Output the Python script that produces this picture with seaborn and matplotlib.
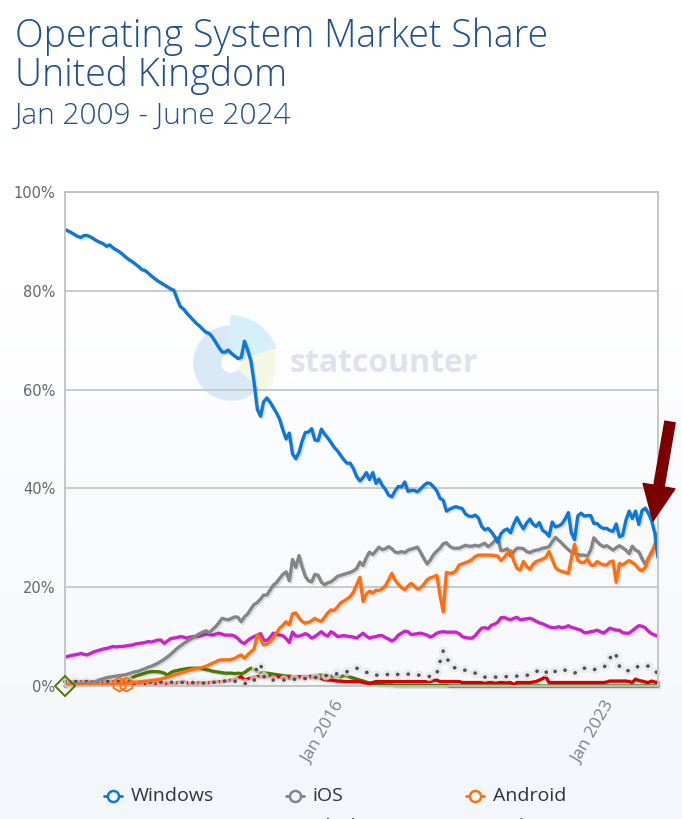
import numpy as np
import pandas as pd
import matplotlib
matplotlib.use('Agg')
import matplotlib.pyplot as plt
import matplotlib.patheffects as pe
from matplotlib.patches import Wedge, Circle, FancyArrowPatch
from matplotlib.lines import Line2D
from matplotlib.transforms import IdentityTransform
import seaborn as sns

# Données (part de marché mensuelle, %)
months = pd.date_range('2009-01-01', '2024-06-01', freq='MS')

windows = [92.4, 92.1, 91.8, 91.4, 91.0, 90.8, 91.2, 91.2, 90.9, 90.5,
           90.1, 89.8, 89.5, 89.0, 89.3, 88.7, 88.3, 87.9, 87.4, 86.8,
           86.3, 85.9, 85.4, 84.9, 84.3, 84.1, 83.6, 83.0, 82.5, 82.0,
           81.6, 81.2, 80.8, 80.4, 80.1, 78.4, 76.8, 76.3, 75.5, 74.8,
           74.1, 73.4, 72.9, 72.2, 71.6, 71.4, 70.6, 69.6, 68.5, 67.6,
           67.6, 68.0, 67.3, 66.8, 66.3, 66.5, 69.8, 68.0, 65.8, 61.5,
           56.0, 54.6, 57.5, 58.3, 57.5, 56.4, 55.3, 54.0, 51.8, 50.0,
           51.2, 47.0, 46.0, 47.3, 49.5, 51.3, 51.4, 52.1, 49.8, 49.7,
           52.0, 51.0, 50.2, 49.3, 48.3, 47.6, 46.7, 45.8, 45.1, 45.1,
           44.0, 42.4, 41.5, 42.2, 43.2, 41.8, 43.2, 41.0, 41.9, 40.6,
           39.8, 38.6, 38.3, 39.5, 40.4, 40.3, 41.3, 39.4, 39.6, 39.6,
           39.3, 39.9, 40.6, 41.1, 41.0, 40.3, 39.5, 38.0, 37.6, 35.4,
           35.8, 36.1, 36.3, 36.1, 35.9, 34.8, 34.4, 34.3, 34.6, 34.0,
           32.3, 31.6, 31.9, 31.2, 30.3, 29.1, 30.8, 31.5, 31.8, 31.0,
           32.8, 34.1, 32.8, 31.8, 33.0, 33.8, 32.8, 32.3, 33.1, 31.5,
           31.1, 30.3, 33.2, 32.2, 32.4, 32.8, 33.8, 35.1, 31.0, 29.6,
           34.4, 35.0, 34.4, 34.5, 34.5, 32.9, 32.9, 32.2, 31.9, 31.9,
           31.5, 31.3, 32.8, 30.2, 30.5, 33.5, 35.4, 33.9, 35.4, 32.7,
           35.5, 36.0, 35.0, 33.5, 31.0, 26.0]

ios = [0.2, 0.2, 0.3, 0.3, 0.4, 0.5, 0.5, 0.6, 0.7, 0.8,
       1.0, 1.3, 1.5, 1.7, 1.8, 1.9, 2.0, 2.1, 2.2, 2.3,
       2.5, 2.7, 2.9, 3.0, 3.3, 3.5, 3.8, 4.0, 4.3, 4.6,
       5.0, 5.4, 5.9, 6.4, 7.0, 7.6, 8.1, 8.6, 9.0, 9.4,
       9.8, 10.2, 10.6, 10.9, 11.2, 10.8, 11.4, 12.0, 12.8, 13.7,
       13.5, 13.4, 13.7, 14.0, 13.9, 13.0, 14.0, 14.6, 15.6, 16.5,
       16.9, 17.6, 18.4, 18.4, 19.4, 20.4, 20.9, 21.8, 22.6, 23.1,
       21.3, 25.6, 24.0, 26.4, 24.2, 22.2, 21.3, 21.1, 22.6, 22.4,
       21.0, 20.5, 20.9, 21.1, 21.6, 22.2, 22.4, 22.6, 22.8, 23.0,
       23.3, 23.8, 25.1, 24.4, 26.0, 27.1, 26.6, 27.4, 28.1, 27.6,
       27.8, 28.2, 27.8, 27.1, 27.0, 27.2, 27.0, 27.5, 27.7, 27.9,
       28.1, 27.0, 25.8, 24.7, 25.5, 26.6, 27.3, 27.9, 28.8, 29.0,
       28.3, 27.9, 27.9, 27.9, 28.2, 28.5, 28.3, 28.3, 28.5, 28.3,
       28.6, 28.9, 28.2, 28.7, 29.3, 30.0, 27.4, 27.5, 27.8, 26.3,
       27.2, 27.9, 27.9, 27.8, 27.2, 27.0, 27.3, 27.5, 27.6, 27.9,
       28.0, 28.2, 29.2, 30.1, 29.5, 28.9, 28.2, 27.6, 27.1, 26.9,
       26.6, 26.5, 26.5, 26.3, 27.5, 30.0, 29.2, 28.6, 28.2, 28.4,
       28.0, 27.5, 28.0, 28.4, 28.0, 27.5, 26.8, 28.3, 27.5, 27.2,
       25.8, 24.6, 25.8, 27.2, 28.2, 29.0]

android = [0.1, 0.1, 0.1, 0.1, 0.1, 0.1, 0.1, 0.2, 0.2, 0.2,
           0.2, 0.2, 0.3, 0.3, 0.3, 0.3, 0.3, 0.4, 0.4, 0.5,
           0.6, 0.7, 0.8, 0.8, 0.9, 1.0, 1.0, 1.1, 1.2, 1.3,
           1.4, 1.6, 1.8, 2.0, 2.2, 2.4, 2.6, 2.8, 3.0, 3.2,
           3.4, 3.5, 3.6, 3.8, 4.0, 4.3, 4.6, 4.9, 5.2, 5.3,
           5.3, 5.3, 5.4, 5.6, 6.0, 6.3, 5.6, 6.3, 6.9, 7.5,
           10.3, 9.5, 8.3, 8.5, 9.0, 9.7, 10.7, 11.7, 12.3, 13.0,
           12.4, 14.6, 14.8, 13.8, 13.1, 12.7, 12.9, 13.2, 13.7, 13.3,
           13.1, 13.9, 14.8, 15.4, 15.3, 16.0, 16.8, 17.2, 17.6, 18.1,
           19.0, 20.5, 22.0, 17.1, 18.6, 19.2, 18.8, 19.4, 19.3, 19.7,
           20.3, 21.5, 22.8, 21.4, 20.6, 19.9, 19.5, 20.2, 20.8, 20.2,
           19.6, 19.9, 20.6, 21.5, 21.9, 22.1, 22.4, 18.4, 15.0, 23.0,
           22.8, 22.9, 23.3, 24.5, 24.7, 25.0, 25.2, 25.6, 26.2, 26.5,
           26.5, 26.5, 26.5, 26.5, 26.4, 26.3, 25.4, 26.0, 26.8, 27.4,
           25.3, 23.8, 23.5, 25.2, 24.2, 23.6, 24.6, 25.2, 25.4, 25.7,
           26.0, 27.2, 25.6, 24.0, 23.4, 23.2, 23.0, 22.8, 25.8, 28.7,
           25.5, 25.0, 25.0, 25.7, 24.5, 24.4, 25.2, 24.8, 24.5, 24.5,
           25.1, 25.3, 21.0, 24.8, 24.5, 25.0, 25.4, 25.0, 24.5, 23.7,
           23.3, 24.0, 25.9, 26.8, 28.6, 31.0]

osx = [5.9, 6.0, 6.2, 6.3, 6.4, 6.6, 6.4, 6.3, 6.6, 6.9,
       7.1, 7.3, 7.5, 7.6, 7.8, 8.0, 7.9, 8.0, 8.0, 8.1,
       8.2, 8.3, 8.5, 8.6, 8.7, 8.8, 9.0, 8.9, 9.1, 9.3,
       9.3, 8.6, 9.1, 9.6, 9.7, 9.8, 10.0, 9.9, 9.7, 9.9,
       10.0, 10.0, 10.1, 10.3, 10.5, 10.4, 10.3, 10.5, 10.7, 10.5,
       10.3, 10.3, 10.3, 10.1, 9.6, 8.9, 8.6, 9.2, 9.7, 10.0,
       10.3, 10.6, 9.3, 9.2, 9.8, 10.7, 10.5, 10.3, 10.2, 9.6,
       8.8, 10.9, 10.1, 10.1, 10.3, 10.6, 10.3, 9.7, 10.0, 10.5,
       11.0, 10.4, 10.1, 11.0, 10.6, 10.0, 10.1, 10.2, 10.1, 10.0,
       9.9, 9.7, 10.2, 10.7, 10.1, 9.7, 9.9, 10.0, 10.2, 10.2,
       9.8, 9.5, 9.1, 9.5, 10.3, 10.7, 11.1, 11.0, 10.4, 10.5,
       10.6, 10.7, 10.5, 10.3, 9.9, 10.2, 10.7, 10.9, 11.0, 10.9,
       10.9, 10.9, 10.9, 10.6, 10.0, 9.8, 9.7, 9.7, 10.2, 11.0,
       11.7, 11.8, 11.6, 12.3, 12.5, 12.9, 13.8, 13.9, 13.6, 13.4,
       13.7, 13.9, 13.4, 13.5, 13.6, 13.7, 13.5, 13.1, 12.8, 12.6,
       12.3, 12.0, 11.8, 11.8, 12.0, 11.8, 11.9, 12.2, 11.9, 11.7,
       11.5, 11.3, 10.8, 10.8, 11.0, 11.1, 11.3, 11.0, 10.7, 11.2,
       11.7, 11.5, 11.3, 11.3, 10.8, 10.7, 10.7, 11.2, 11.7, 12.2,
       12.1, 11.8, 11.1, 10.6, 10.3, 10.1]

blackberry = [0.0, 0.2, 0.3, 0.3, 0.4, 0.4, 0.5, 0.5, 0.5, 0.6,
              0.6, 0.6, 0.7, 0.7, 0.8, 0.8, 0.9, 1.0, 1.1, 1.2,
              1.4, 1.7, 2.0, 2.2, 2.4, 2.6, 2.8, 2.9, 2.9, 2.9,
              2.8, 2.6, 2.2, 2.7, 3.0, 3.1, 3.3, 3.4, 3.5, 3.6,
              3.6, 3.6, 3.6, 3.5, 3.3, 3.2, 3.0, 2.9, 2.8, 2.7,
              2.6, 2.6, 2.6, 2.5, 2.6, 2.5, 2.7, 3.2, 3.6, 3.3,
              2.9, 2.7, 2.6, 2.6, 2.5, 2.4, 2.3, 2.2, 2.1, 2.0,
              2.0, 1.9, 1.9, 1.9, 1.9, 1.9, 1.9, 2.0, 2.1, 2.2,
              2.2, 2.2, 2.1, 2.0, 1.9, 1.9, 1.9, 2.1, 2.1, 1.8,
              1.6, 1.4, 1.2, 1.0, 0.8, 0.6, 0.5, 0.4, 0.3, 0.3,
              0.2, 0.2, 0.2, 0.1, 0.1, 0.1, 0.1, 0.1, 0.1, 0.1,
              0.1, 0.1, 0.1, 0.1, 0.1, 0.1, 0.1, 0.1, 0.1, 0.1,
              0.0, 0.0, 0.0, 0.0, 0.0, 0.0, 0.0, 0.0, 0.0, 0.0,
              0.0, 0.0, 0.0, 0.0, 0.0, 0.0, 0.0, 0.0, 0.0, 0.0,
              0.0, 0.0, 0.0, 0.0, 0.0, 0.0, 0.0, 0.0, 0.0, 0.0,
              0.0, 0.0, 0.0, 0.0, 0.0, 0.0, 0.0, 0.0, 0.0, 0.0,
              0.0, 0.0, 0.0, 0.0, 0.0, 0.0, 0.0, 0.0, 0.0, 0.0,
              0.0, 0.0, 0.0, 0.0, 0.0, 0.0, 0.0, 0.0, 0.0, 0.0,
              0.0, 0.0, 0.0, 0.0, 0.0, 0.0]

linux = [0.9, 0.9, 0.9, 0.9, 0.9, 0.9, 0.9, 0.9, 0.9, 0.9,
         0.9, 0.9, 0.9, 0.9, 0.9, 0.9, 0.9, 0.9, 0.9, 0.8,
         0.7, 0.5, 0.5, 0.5, 0.5, 0.5, 0.6, 0.5, 0.5, 0.6,
         0.5, 0.5, 0.6, 0.5, 0.5, 0.7, 0.8, 0.9, 0.7, 0.5,
         0.5, 0.6, 0.7, 0.6, 0.6, 0.7, 0.8, 0.8, 0.9, 0.9,
         1.0, 1.1, 1.2, 1.4, 1.6, 1.9, 1.2, 1.4, 1.6, 1.8,
         1.9, 1.9, 1.9, 1.9, 1.9, 1.9, 1.8, 1.8, 1.7, 1.7,
         1.6, 1.6, 1.7, 1.8, 1.9, 1.9, 1.9, 1.8, 1.7, 1.6,
         1.5, 1.3, 1.2, 1.2, 1.1, 1.0, 1.0, 0.9, 0.9, 0.9,
         0.9, 0.9, 0.9, 0.7, 0.6, 0.5, 0.7, 0.9, 0.9, 0.9,
         0.9, 0.9, 0.9, 0.9, 0.9, 0.9, 0.9, 0.9, 0.9, 0.9,
         0.9, 0.9, 0.9, 0.9, 0.9, 1.1, 1.2, 0.9, 0.9, 0.9,
         0.9, 0.9, 0.9, 0.9, 0.7, 0.7, 0.7, 0.7, 0.7, 0.7,
         0.7, 0.7, 0.7, 0.7, 0.7, 0.7, 0.7, 0.7, 0.7, 0.7,
         0.3, 0.7, 0.7, 0.7, 0.7, 0.7, 0.8, 0.9, 1.2, 1.5,
         1.9, 0.7, 0.7, 0.7, 0.7, 0.7, 0.7, 0.7, 0.7, 0.7,
         0.7, 0.7, 0.7, 0.7, 0.7, 0.7, 0.7, 0.7, 0.7, 0.8,
         1.0, 1.0, 1.0, 1.0, 1.0, 1.0, 0.9, 0.7, 1.4, 1.1,
         1.0, 0.8, 0.7, 1.0, 0.8, 0.7]

unknown = [0.9, 0.9, 0.9, 0.9, 0.9, 0.9, 0.9, 0.9, 0.9, 0.9,
           0.9, 0.9, 0.9, 0.9, 0.9, 0.9, 0.9, 0.9, 0.9, 0.9,
           0.9, 0.8, 0.8, 0.8, 0.8, 0.8, 0.8, 0.8, 0.8, 0.8,
           0.8, 0.8, 0.8, 0.8, 0.7, 0.7, 0.7, 0.7, 0.7, 0.7,
           0.7, 0.6, 0.6, 0.6, 0.6, 0.6, 0.7, 0.8, 0.9, 1.0,
           1.0, 1.0, 1.1, 1.0, 0.6, 0.5, 0.5, 0.4, 0.6, 1.0,
           4.3, 4.4, 2.0, 1.2, 1.2, 1.2, 1.2, 1.2, 1.2, 1.2,
           1.2, 1.3, 1.4, 1.4, 1.5, 1.5, 1.6, 1.6, 1.7, 1.8,
           1.9, 2.0, 2.2, 2.3, 2.4, 2.5, 2.6, 2.7, 2.9, 3.1,
           3.4, 3.6, 3.4, 3.2, 2.8, 2.5, 2.2, 2.2, 2.2, 2.2,
           2.2, 2.4, 2.6, 2.5, 2.3, 2.2, 2.3, 2.4, 2.4, 2.3,
           2.2, 2.2, 2.1, 2.0, 1.9, 1.9, 2.5, 4.9, 7.1, 6.0,
           4.4, 3.8, 3.6, 3.4, 3.2, 3.2, 3.0, 2.8, 2.6, 2.3,
           2.0, 1.8, 1.8, 1.8, 1.8, 1.8, 1.8, 1.9, 1.9, 2.0,
           2.0, 2.0, 2.0, 2.0, 2.1, 2.5, 2.8, 2.9, 3.2, 3.4,
           2.9, 2.3, 2.5, 3.0, 3.4, 3.3, 3.2, 3.0, 2.8, 2.6,
           3.0, 3.5, 3.6, 3.5, 3.2, 3.3, 3.5, 3.6, 3.8, 4.3,
           5.5, 6.8, 6.2, 4.0, 3.2, 3.1, 3.1, 3.2, 3.7, 4.0,
           4.1, 4.2, 4.0, 3.4, 2.9, 2.7]

df = pd.DataFrame({'month': months, 'Windows': windows, 'iOS': ios,
                   'Android': android, 'OS X': osx, 'BlackBerry OS': blackberry,
                   'Linux': linux, 'Unknown': unknown})

couleurs = {'Windows': '#0f78d6', 'iOS': '#858585', 'Android': '#ff6f0f',
            'OS X': '#cc22cc', 'BlackBerry OS': '#4a7a00', 'Linux': '#d40000',
            'Unknown': '#505050'}

sns.set_theme(style='white')
plt.rcParams['font.family'] = ['Open Sans', 'DejaVu Sans']

W, H = 682, 819
fig = plt.figure(figsize=(W / 100, H / 100), dpi=100)

# fond dégradé blanc -> bleu très clair
bg = fig.add_axes([0, 0, 1, 1], zorder=-3)
t = np.clip((np.linspace(1, 0, 200) - 0.35) / 0.65, 0, 1)[::-1]
haut = np.array([1.0, 1.0, 1.0])
bas = np.array([0.953, 0.965, 0.984])
grad = haut + (bas - haut) * t[:, None]
bg.imshow(grad[:, None, :], aspect='auto', extent=[0, 1, 0, 1], origin='upper')
bg.axis('off')

# logo statcounter en filigrane
cx, cy = 231, 363
logo = fig.add_axes([(cx - 55) / W, (H - cy - 55) / H, 110 / W, 110 / H], zorder=-2)
logo.set_xlim(-55, 55)
logo.set_ylim(-55, 55)
logo.set_aspect('equal')
logo.axis('off')
logo.patch.set_alpha(0)
logo.add_patch(Wedge((0, 0), 37, 90, 320, color='#d9e9f7'))
logo.add_patch(Wedge((0, 0), 47, 18, 90, color='#d6f0fb'))
logo.add_patch(Wedge((0, 0), 44, -40, 18, color='#f3f7e3'))
logo.add_patch(Circle((0, 0), 9, color='white'))
fig.text(290 / W, (H - 372) / H, 'statcounter', fontsize=23, fontweight='bold',
         color='#dde2ec', ha='left', va='baseline', zorder=-1)

ax = fig.add_axes([65 / W, (H - 686) / H, 593 / W, 494 / H], zorder=1)
ax.set_facecolor('none')

ombre = [pe.SimpleLineShadow(offset=(1.2, -1.2), shadow_color='k', alpha=0.12), pe.Normal()]

for nom in ['BlackBerry OS', 'Linux']:
    sns.lineplot(data=df, x='month', y=nom, ax=ax, color=couleurs[nom], lw=2.4,
                 path_effects=ombre, clip_on=False)

sns.lineplot(data=df, x='month', y='Unknown', ax=ax, color=couleurs['Unknown'], lw=2.6,
             linestyle=(0, (0.05, 2.9)), dash_capstyle='round', clip_on=False,
             path_effects=[pe.Stroke(linewidth=7, foreground='#e6e6e6', alpha=0.7), pe.Normal()])

for nom in ['OS X', 'iOS', 'Android', 'Windows']:
    sns.lineplot(data=df, x='month', y=nom, ax=ax, color=couleurs[nom], lw=2.4,
                 path_effects=ombre)

# marqueurs de début de série
ax.plot(df['month'][[0]], df['BlackBerry OS'][[0]], marker='D', ms=10, mfc='none',
        mec=couleurs['BlackBerry OS'], mew=1.4, ls='none', clip_on=False, zorder=5)
ax.plot(df['month'][[17, 19]], df['Android'][[17, 19]], marker='h', ms=10, mfc='none',
        mec=couleurs['Android'], mew=1.3, ls='none', clip_on=False, zorder=5)

ax.set_xlim(months[0], months[-1])
ax.set_ylim(0, 100)
ax.set_yticks([0, 20, 40, 60, 80, 100])
ax.set_yticklabels(['0%', '20%', '40%', '60%', '80%', '100%'], fontfamily='DejaVu Sans',
                   fontsize=10.5, color='#666666')
xt = [pd.Timestamp('2016-01-01'), pd.Timestamp('2023-01-01')]
ax.set_xticks(xt)
ax.set_xticklabels(['Jan 2016', 'Jan 2023'], rotation=60, ha='right',
                   rotation_mode='anchor', fontsize=12.5, color='#808080')
ax.tick_params(axis='both', length=0)
ax.tick_params(axis='y', pad=7)
ax.tick_params(axis='x', pad=9)
ax.set_xlabel('')
ax.set_ylabel('')
ax.yaxis.grid(True, color='#c6c6c6', lw=1.3)
ax.xaxis.grid(False)
for s in ax.spines.values():
    s.set_color('#c2c2c2')
    s.set_linewidth(1.3)

# titres
bleu = '#1f4f8f'
fig.text(15 / W, (H - 47) / H, 'Operating System Market Share', fontsize=27,
         fontweight='light', color=bleu, va='baseline')
fig.text(15 / W, (H - 86) / H, 'United Kingdom', fontsize=27,
         fontweight='light', color=bleu, va='baseline')
fig.text(15 / W, (H - 124) / H, 'Jan 2009 - June 2024', fontsize=21.5,
         fontweight='light', color=bleu, va='baseline')

# flèche
fleche = FancyArrowPatch((670, H - 422), (653, H - 521),
                         arrowstyle='simple,head_length=1.7,head_width=1.55,tail_width=0.5',
                         mutation_scale=15, color='#7b0000', shrinkA=0, shrinkB=0,
                         transform=IdentityTransform(), zorder=6)
fig.add_artist(fleche)

# légende
legende = [('Windows', 113, 796), ('iOS', 295, 796), ('Android', 475, 796),
           ('OS X', 113, 827), ('BlackBerry OS', 295, 827), ('Unknown', 475, 827)]
for nom, lx, ly in legende:
    fig.add_artist(Line2D([lx - 9, lx, lx + 9], [H - ly] * 3, color=couleurs[nom], lw=2,
                          marker='o', markevery=[1], ms=8, mfc='#f3f6fb', mew=1.8,
                          transform=IdentityTransform()))
    fig.text((lx + 18) / W, (H - ly) / H, nom, fontsize=14, color='#333333',
             va='center', ha='left')

fig.savefig('out.png', dpi=100)
